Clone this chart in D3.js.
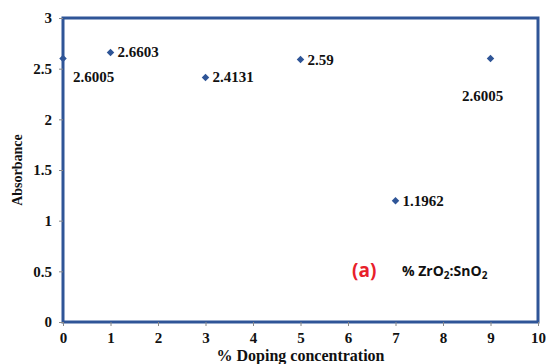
<!DOCTYPE html>
<html>
<head>
<meta charset="utf-8">
<script src="https://cdn.jsdelivr.net/npm/d3@7"></script>
<style>
  body { margin: 0; background: #fff; }
</style>
</head>
<body>
<div class="chart"></div>
<script>
// data
const doping = [0, 1, 3, 5, 7, 9];
const absorbance = [2.6005, 2.6603, 2.4131, 2.59, 1.1962, 2.6005];
const pointLabels = ['2.6005', '2.6603', '2.4131', '2.59', '1.1962', '2.6005'];
// where each label sits relative to its marker
const labelPlace = ['below', 'right', 'right', 'right', 'right', 'farBelow'];
const xTicks = [0, 1, 2, 3, 4, 5, 6, 7, 8, 9, 10];
const yTicks = [0, 0.5, 1, 1.5, 2, 2.5, 3];

const width = 546;
const height = 364;
const margin = {top: 18, left: 63, right: 8, bottom: 42};
const blue = '#2f5597';
const serif = 'Liberation Serif';

const x = d3.scaleLinear().domain([0, 10]).range([margin.left, width - margin.right]);
const y = d3.scaleLinear().domain([0, 3]).range([height - margin.bottom, margin.top]);

const svg = d3.select('.chart').append('svg')
  .attr('width', width).attr('height', height);

// frame around the plot
svg.append('rect')
  .attr('x', x(0)).attr('y', y(3))
  .attr('width', x(10) - x(0)).attr('height', y(0) - y(3))
  .attr('fill', '#fff')
  .attr('stroke', blue)
  .attr('stroke-width', 3);

// axes
const xAxis = svg.append('g')
  .attr('transform', `translate(0, ${y(0)})`)
  .call(d3.axisBottom(x).tickValues(xTicks).tickSize(4).tickPadding(6).tickFormat(d3.format('d')));
const yAxis = svg.append('g')
  .attr('transform', `translate(${x(0)}, 0)`)
  .call(d3.axisLeft(y).tickValues(yTicks).tickSize(4).tickPadding(7).tickFormat(d => d));

[xAxis, yAxis].forEach(g => {
  g.select('.domain').remove();
  g.selectAll('line').attr('stroke', '#888');
  g.selectAll('text')
    .attr('font-family', serif)
    .attr('font-weight', 'bold')
    .attr('font-size', 15)
    .attr('fill', '#111');
});

// diamond markers
const diamond = d3.symbol().type(d3.symbolDiamond2).size(36);
svg.selectAll('.pt').data(doping)
  .enter()
  .append('path')
  .attr('class', 'pt')
  .attr('d', diamond)
  .attr('transform', (d, i) => `translate(${x(d)}, ${y(absorbance[i])})`)
  .attr('fill', blue);

// point labels
const dx = {right: 7, below: 10, farBelow: -8};
const dy = {right: 5, below: 24, farBelow: 43};
svg.selectAll('.lbl').data(doping)
  .enter()
  .append('text')
  .attr('class', 'lbl')
  .attr('x', (d, i) => x(d) + dx[labelPlace[i]])
  .attr('y', (d, i) => y(absorbance[i]) + dy[labelPlace[i]])
  .attr('text-anchor', (d, i) => labelPlace[i] === 'farBelow' ? 'middle' : 'start')
  .attr('font-family', serif)
  .attr('font-weight', 'bold')
  .attr('font-size', 15)
  .attr('fill', '#111')
  .text((d, i) => pointLabels[i]);

// axis titles
svg.append('text')
  .attr('transform', `translate(22, ${(y(0) + y(3)) / 2}) rotate(-90)`)
  .attr('text-anchor', 'middle')
  .attr('font-family', serif)
  .attr('font-weight', 'bold')
  .attr('font-size', 14)
  .attr('fill', '#111')
  .text('Absorbance');

svg.append('text')
  .attr('x', (x(0) + x(10)) / 2)
  .attr('y', 361)
  .attr('text-anchor', 'middle')
  .attr('font-family', serif)
  .attr('font-weight', 'bold')
  .attr('font-size', 16)
  .attr('fill', '#111')
  .text('% Doping concentration');

// panel tag and note
svg.append('text')
  .attr('x', 352).attr('y', 277)
  .attr('font-family', '"Open Sans", "Liberation Sans", sans-serif')
  .attr('font-weight', 'bold')
  .attr('font-size', 19)
  .attr('fill', '#e8202a')
  .text('(a)');

const note = svg.append('text')
  .attr('x', 402).attr('y', 276)
  .attr('font-family', '"Open Sans", "Liberation Sans", sans-serif')
  .attr('font-weight', 'bold')
  .attr('font-size', 14)
  .attr('fill', '#111');
note.append('tspan').text('% ZrO');
note.append('tspan').attr('font-size', 10).attr('dy', 3).text('2');
note.append('tspan').attr('dy', -3).text(':SnO');
note.append('tspan').attr('font-size', 10).attr('dy', 3).text('2');
</script>
</body>
</html>
